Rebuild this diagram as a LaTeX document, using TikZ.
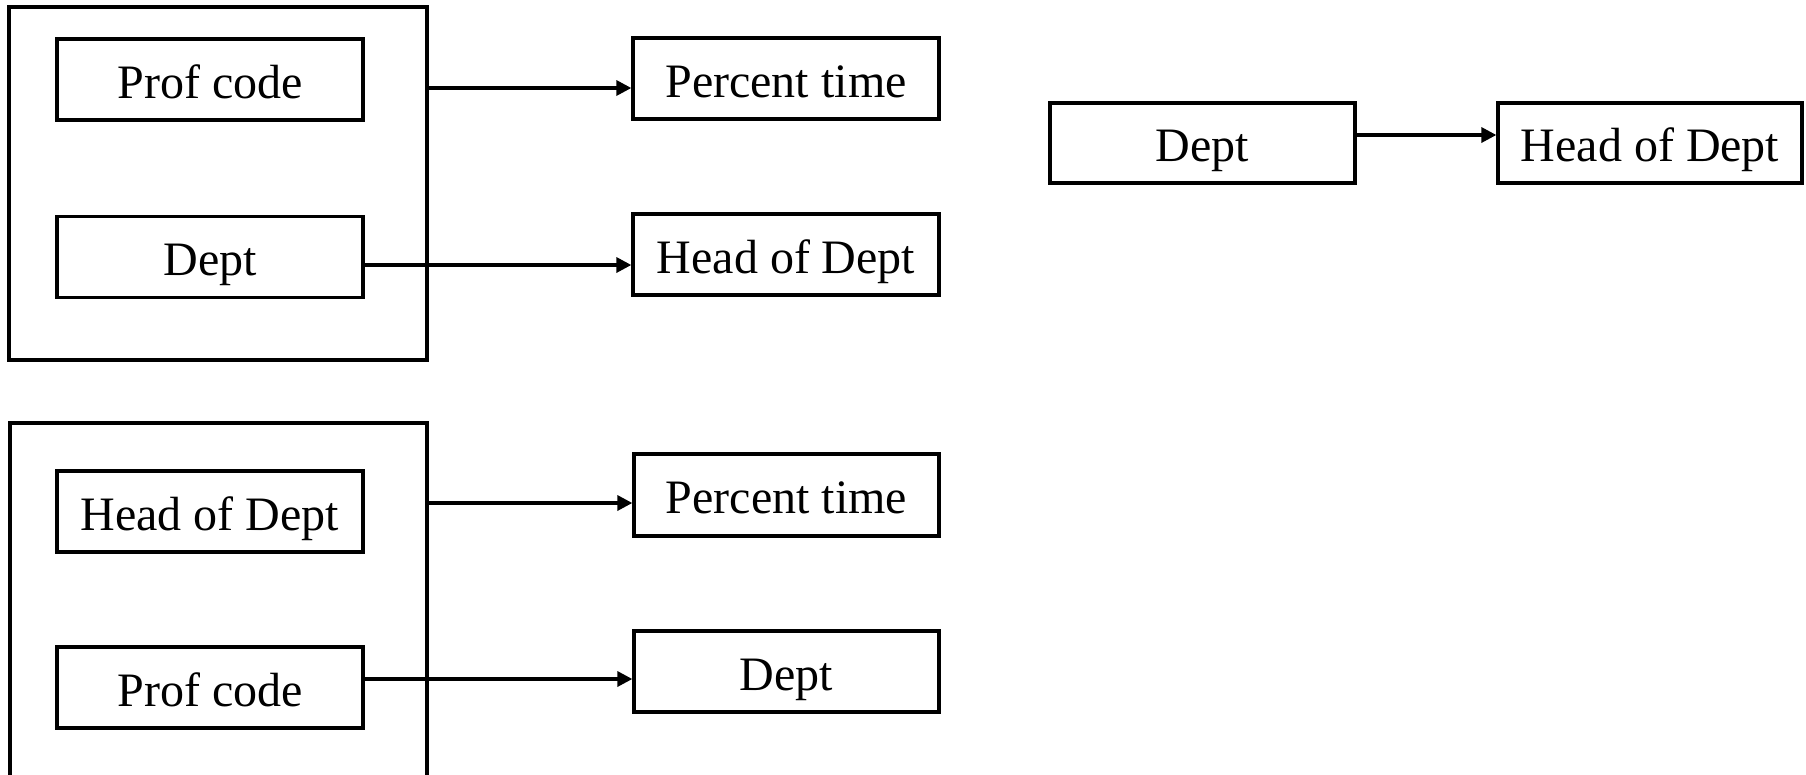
\documentclass[tikz,border=0pt]{standalone}
\usepackage{fontspec}
\setmainfont{Liberation Serif}
\usetikzlibrary{arrows.meta}
\begin{document}
\begin{tikzpicture}[x=1pt,y=-1pt,
  box/.style={draw,line width=3.3pt,rectangle,inner sep=0pt,minimum width=306pt,minimum height=81pt,text height=37pt,text depth=0pt,font=\fontsize{48}{52}\selectfont},
  outer/.style={draw,line width=3.3pt,rectangle,inner sep=0pt},
  conn/.style={line width=3.3pt,-{Triangle[length=15pt,width=15pt]}}]
\useasboundingbox (0,0) rectangle (1806,774);
% top-left group
\node[outer,minimum width=418pt,minimum height=353pt] (outer1) at (218,183.5) {};
\node[box] (pc1) at (210,79.5) {Prof code};
\node[box] (dept1) at (210,257) {Dept};
\node[box] (pt1) at (786,78.5) {Percent time};
\node[box] (hod1) at (786,254.5) {Head of Dept};
\draw[conn] (outer1.east |- 0,88) -- (pt1.west |- 0,88);
\draw[conn] (dept1.east |- 0,265) -- (hod1.west |- 0,265);
% top-right
\node[box,minimum width=305pt,minimum height=80pt] (dept2) at (1202.5,143) {Dept};
\node[box,minimum width=304pt,minimum height=80pt] (hod2) at (1650,143) {Head of Dept};
\draw[conn] (dept2.east |- 0,135) -- (hod2.west |- 0,135);
% bottom group
\node[outer,minimum width=417pt,minimum height=380pt] (outer2) at (218.5,613) {};
\node[box] (hod3) at (210,511.5) {Head of Dept};
\node[box] (pc3) at (210,687.5) {Prof code};
\node[box,minimum width=305pt,minimum height=82pt] (pt3) at (786.5,495) {Percent time};
\node[box,minimum width=305pt,minimum height=81pt] (dept3) at (786.5,671.5) {Dept};
\draw[conn] (outer2.east |- 0,503) -- (pt3.west |- 0,503);
\draw[conn] (pc3.east |- 0,679) -- (dept3.west |- 0,679);
\end{tikzpicture}
\end{document}
